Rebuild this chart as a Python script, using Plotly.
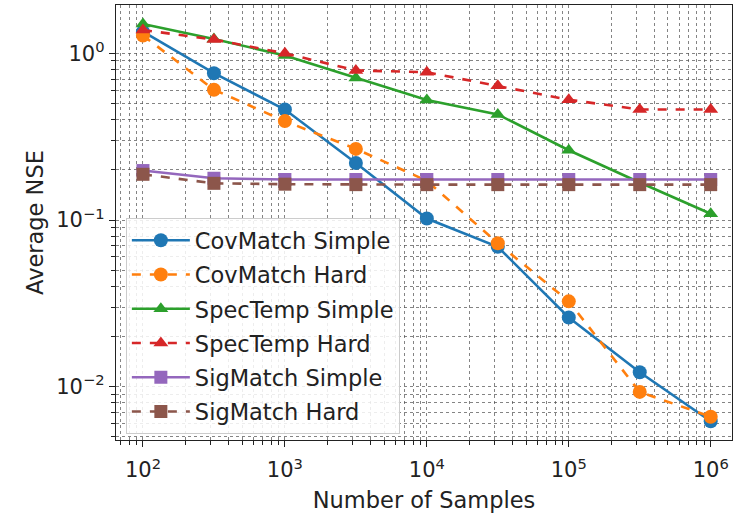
import plotly.graph_objects as go

samples = [1e2, 3.162e2, 1e3, 3.162e3, 1e4, 3.162e4, 1e5, 3.162e5, 1e6]

cov_simple = [1.35, 0.76, 0.46, 0.22, 0.102, 0.069, 0.026, 0.0122, 0.0062]
cov_hard = [1.28, 0.605, 0.392, 0.267, 0.172, 0.0726, 0.0325, 0.0093, 0.0066]
spec_simple = [1.5, 1.22, 0.97, 0.71, 0.525, 0.43, 0.262, 0.168, 0.109]
spec_hard = [1.38, 1.21, 1.0, 0.79, 0.77, 0.64, 0.527, 0.46, 0.46]
sig_simple = [0.198, 0.178, 0.175, 0.175, 0.175, 0.175, 0.175, 0.175, 0.175]
sig_hard = [0.188, 0.166, 0.164, 0.163, 0.163, 0.163, 0.163, 0.163, 0.163]

series = [
    ("CovMatch Simple", cov_simple, "#1f77b4", "solid", "circle"),
    ("CovMatch Hard", cov_hard, "#ff7f0e", "dash", "circle"),
    ("SpecTemp Simple", spec_simple, "#2ca02c", "solid", "triangle-up"),
    ("SpecTemp Hard", spec_hard, "#d62728", "dash", "triangle-up"),
    ("SigMatch Simple", sig_simple, "#9467bd", "solid", "square"),
    ("SigMatch Hard", sig_hard, "#8c564b", "dash", "square"),
]

x_ticks = [1e2, 1e3, 1e4, 1e5, 1e6]
x_labels = ["10<sup>2</sup>", "10<sup>3</sup>", "10<sup>4</sup>", "10<sup>5</sup>", "10<sup>6</sup>"]
y_ticks = [1e-2, 1e-1, 1e0]
y_labels = ["10<sup>−2</sup>", "10<sup>−1</sup>", "10<sup>0</sup>"]

x_minor = [k * 10 ** d for d in range(1, 7) for k in range(2, 10)]
y_minor = [k * 10 ** d for d in range(-3, 1) for k in range(2, 10)]

fig = go.Figure()
for i, (name, vals, color, dash, sym) in enumerate(series):
    fig.add_trace(go.Scatter(
        x=samples, y=vals, name=name, mode="lines+markers",
        line=dict(color=color, width=2.6, dash=dash),
        marker=dict(color=color, symbol=sym, size=14 if sym == "circle" else 13),
        legendgroup=f"g{i}",
    ))

grid_color = "rgba(80,80,80,0.7)"
axis_common = dict(
    type="log", showline=True, linecolor="#222", linewidth=1.4, mirror=True,
    ticks="outside", ticklen=6, tickwidth=1.3, tickcolor="#222",
    showgrid=True, gridcolor=grid_color, griddash="dot", gridwidth=0.8,
    zeroline=False,
    tickfont=dict(family="DejaVu Sans", size=21, color="#222"),
    title_font=dict(family="DejaVu Sans", size=22.5, color="#222"),
)

fig.update_xaxes(
    **axis_common, range=[1.81, 6.15], tickmode="array", tickvals=x_ticks, ticktext=x_labels,
    title_text="Number of Samples", title_standoff=10, ticklabelstandoff=5,
    minor=dict(tickmode="array", tickvals=x_minor, ticks="outside", ticklen=3.5, tickwidth=1,
               tickcolor="#222", showgrid=True, gridcolor=grid_color, griddash="dot", gridwidth=0.8),
)
fig.update_yaxes(
    **axis_common, range=[-2.32, 0.29], tickmode="array", tickvals=y_ticks, ticktext=y_labels,
    title_text="Average NSE", title_standoff=6,
    minor=dict(tickmode="array", tickvals=y_minor, ticks="outside", ticklen=3.5, tickwidth=1,
               tickcolor="#222", showgrid=True, gridcolor=grid_color, griddash="dot", gridwidth=0.8),
)

fig.update_layout(
    width=734, height=519,
    margin=dict(l=116, r=2, t=5, b=79),
    plot_bgcolor="white", paper_bgcolor="white",
    font=dict(family="DejaVu Sans", size=21, color="#222"),
    legend=dict(
        x=0.016, y=0.51, xanchor="left", yanchor="top",
        bgcolor="rgba(255,255,255,0.85)", bordercolor="#cccccc", borderwidth=1,
        font=dict(family="DejaVu Sans", size=22.5, color="#222"),
        tracegroupgap=2, itemwidth=58,
    ),
    showlegend=True,
)

fig.write_html("out.html")
